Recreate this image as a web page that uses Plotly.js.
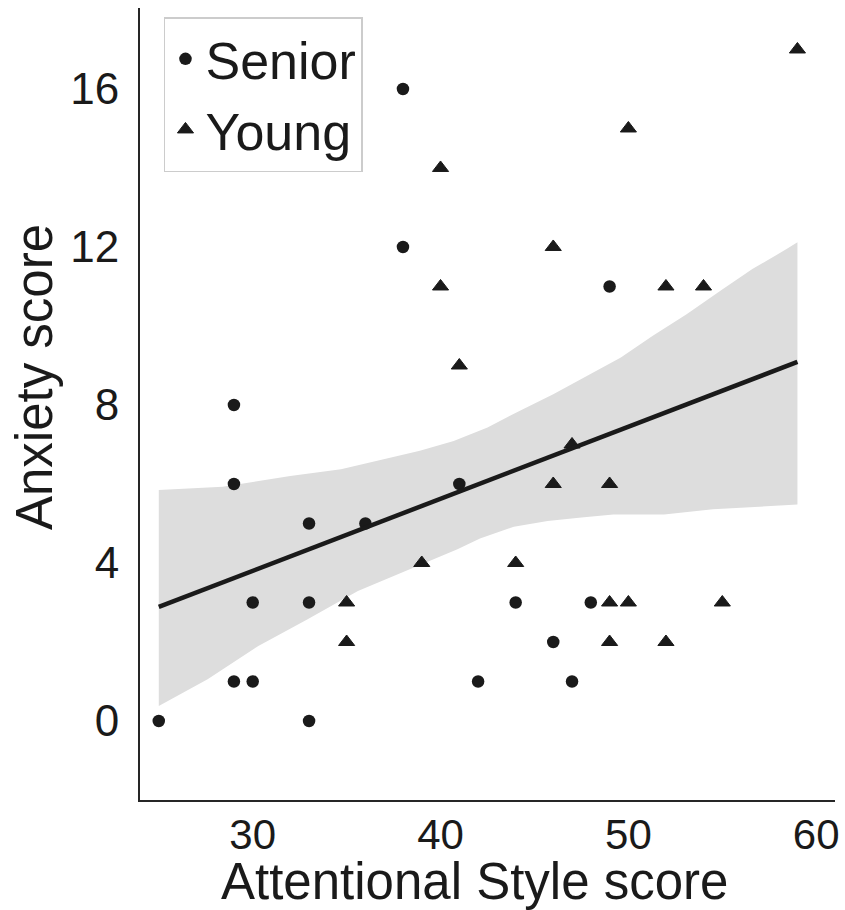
<!DOCTYPE html>
<html>
<head>
<meta charset="utf-8">
<script src="https://cdn.plot.ly/plotly-3.0.1.min.js"></script>
<style>html,body{margin:0;padding:0;background:#fff;}#chart{width:845px;height:910px;}</style>
</head>
<body>
<div id="chart"></div>
<script>
// Senior group (circles)
const seniorX = [25, 29, 29, 29, 30, 30, 33, 33, 33, 36, 38, 38, 41, 42, 44, 46, 47, 48, 49];
const seniorY = [0, 8, 6, 1, 3, 1, 5, 3, 0, 5, 16, 12, 6, 1, 3, 2, 1, 3, 11];
// Young group (triangles)
const youngX = [35, 35, 39, 40, 40, 41, 44, 46, 46, 47, 49, 49, 49, 50, 50, 52, 52, 54, 55, 59];
const youngY = [3, 2, 4, 14, 11, 9, 4, 12, 6, 7, 6, 3, 2, 15, 3, 11, 2, 11, 3, 17];
// Regression line (endpoints)
const fitX = [25, 59];
const fitY = [2.89, 9.09];
// Confidence band edges
const bandUpperX = [25, 28.4, 32.0, 34.7, 38.9, 40.7, 42.5, 44.2, 46.0, 47.8, 49.6, 51.3, 53.1, 54.9, 56.6, 58.4, 59];
const bandUpperY = [5.85, 5.93, 6.2, 6.37, 6.84, 7.09, 7.43, 7.85, 8.27, 8.73, 9.2, 9.75, 10.3, 10.89, 11.44, 11.94, 12.12];
const bandLowerX = [25, 27.6, 30.3, 32.9, 35.6, 38.2, 40.9, 42.1, 43.9, 45.7, 47.5, 49.2, 51.9, 54.5, 59];
const bandLowerY = [0.38, 1.06, 1.9, 2.57, 3.29, 3.8, 4.35, 4.62, 4.92, 5.06, 5.15, 5.23, 5.23, 5.36, 5.48];
// Ticks / labels
const xTicks = [30, 40, 50, 60];
const yTicks = [0, 4, 8, 12, 16];
const seriesNames = ['Senior', 'Young'];
const xTitle = 'Attentional Style score';
const yTitle = 'Anxiety score';

const FONT = '"Liberation Sans", Arial, Helvetica, sans-serif';
const INK = '#1a1a1a';

const polyX = bandUpperX.concat(bandLowerX.slice().reverse());
const polyY = bandUpperY.concat(bandLowerY.slice().reverse());

const traces = [
  {x: polyX, y: polyY, type: 'scatter', mode: 'lines', fill: 'toself',
   fillcolor: '#dddddd', line: {width: 0, color: 'rgba(0,0,0,0)'}, showlegend: false, hoverinfo: 'skip'},
  {x: seniorX, y: seniorY, type: 'scatter', mode: 'markers', name: seriesNames[0],
   marker: {symbol: 'circle', size: 12.5, color: INK}},
  {x: youngX, y: youngY, type: 'scatter', mode: 'markers', name: seriesNames[1],
   marker: {symbol: 'triangle-up', size: 14, color: INK, line: {width: 1, color: INK}}},
  {x: fitX, y: fitY, type: 'scatter', mode: 'lines', line: {color: INK, width: 4.5},
   showlegend: false, hoverinfo: 'skip'}
];

const layout = {
  width: 845, height: 910,
  margin: {l: 140, r: 10, t: 8, b: 110},
  paper_bgcolor: '#ffffff', plot_bgcolor: '#ffffff',
  font: {family: FONT, color: INK},
  showlegend: true,
  xaxis: {
    range: [24.0, 61.0], tickvals: xTicks, ticktext: xTicks.map(String),
    showgrid: false, zeroline: false, showline: true, linecolor: '#262626', linewidth: 2,
    ticks: '', ticklabelstandoff: -3, tickfont: {family: FONT, size: 42, color: INK}
  },
  yaxis: {
    range: [-2.0, 18.05], tickvals: yTicks, ticktext: yTicks.map(String),
    showgrid: false, zeroline: false, showline: true, linecolor: '#262626', linewidth: 2,
    ticks: '', ticklabelstandoff: 10, tickfont: {family: FONT, size: 44, color: INK}
  },
  legend: {
    x: 0.0345, y: 0.9886, xanchor: 'left', yanchor: 'top',
    bgcolor: '#ffffff', bordercolor: '#cccccc', borderwidth: 1.5,
    font: {family: FONT, size: 52, color: INK}
  },
  annotations: [
    {text: xTitle, xref: 'paper', yref: 'paper', x: 0.4806, y: -0.103,
     xanchor: 'center', yanchor: 'middle', showarrow: false,
     font: {family: FONT, size: 51, color: INK}},
    {text: yTitle, xref: 'paper', yref: 'paper', x: -0.1525, y: 0.534,
     xanchor: 'center', yanchor: 'middle', showarrow: false, textangle: -90,
     font: {family: FONT, size: 51, color: INK}}
  ]
};

Plotly.newPlot('chart', traces, layout, {displayModeBar: false, staticPlot: true});
</script>
</body>
</html>
